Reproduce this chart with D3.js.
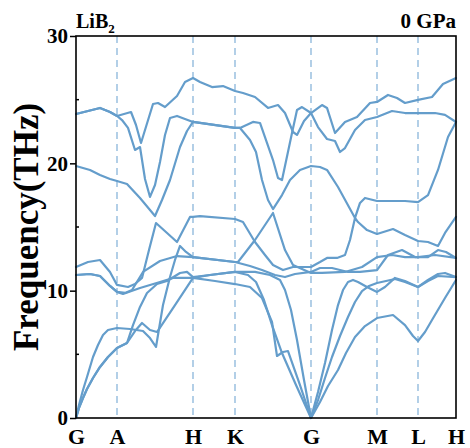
<!DOCTYPE html>
<html>
<head>
<meta charset="utf-8">
<script src="https://cdn.jsdelivr.net/npm/d3@7"></script>
<style>
  html, body { margin: 0; padding: 0; background: #fff; }
  svg text { font-family: "Liberation Serif", "Times New Roman", serif; font-weight: bold; fill: #000; }
</style>
</head>
<body>
<svg id="chart" width="470" height="448"></svg>
<script>
// High-symmetry path and axis ticks
const kLabels = ["G", "A", "H", "K", "G", "M", "L", "H"];
const kPos = [0, 0.41, 1.17, 1.59, 2.35, 3.01, 3.42, 3.80];
const freqTicks = [0, 10, 20, 30];
const freqMinor = [5, 15, 25];

// Phonon branches of LiB2 at 0 GPa: [path coordinate k, frequency THz]
const band1 = [[0,0],[0.03,0.79],[0.07,1.57],[0.11,2.28],[0.17,3.14],[0.24,4.01],[0.32,4.79],[0.41,5.50],
  [0.51,5.89],[0.59,6.83],[0.66,7.46],[0.74,6.91],[0.81,6.75],[0.99,8.87],[1.17,11.00],
  [1.39,10.76],[1.59,10.52],
  [1.74,10.29],[1.86,9.42],[1.96,7.54],[2.01,4.87],[2.07,5.18],[2.12,5.26],[2.24,2.59],[2.35,0],
  [2.44,1.26],[2.52,2.51],[2.62,3.77],[2.70,5.10],[2.79,6.36],[2.89,7.22],[3.01,7.85],
  [3.17,8.09],[3.29,7.30],[3.37,6.44],[3.42,6.05],
  [3.49,6.75],[3.56,7.70],[3.69,9.42],[3.80,10.84]];

const band2 = [[0,0],[0.03,0.79],[0.07,1.57],[0.11,2.28],[0.17,3.14],[0.24,4.01],[0.32,4.79],[0.41,5.50],
  [0.51,5.89],[0.57,7.30],[0.64,8.72],[0.71,9.82],[0.81,10.52],[0.91,10.76],[1.04,11.39],[1.11,11.47],[1.17,11.07],
  [1.34,11.23],[1.59,11.47],
  [1.72,11.23],[1.80,10.68],[1.88,9.27],[1.96,7.30],[2.06,5.10],[2.20,2.59],[2.35,0],
  [2.42,1.41],[2.49,3.14],[2.56,4.79],[2.64,6.44],[2.72,7.93],[2.79,9.11],[2.86,9.97],[2.93,10.37],[3.01,10.60],
  [3.19,10.92],[3.29,10.68],[3.42,10.29],
  [3.52,10.76],[3.62,11.15],[3.80,11.07]];

const band3 = [[0,11.23],[0.14,11.31],[0.24,11.15],[0.34,10.37],[0.41,9.90],
  [0.47,9.74],[0.64,10.21],[0.84,10.68],[0.97,11.00],[1.17,11.00],
  [1.34,11.23],[1.59,11.47],
  [1.79,11.47],[1.94,11.23],[2.04,10.84],[2.09,10.05],[2.15,8.48],[2.21,6.13],[2.28,2.98],[2.35,0],
  [2.42,2.04],[2.49,4.32],[2.56,6.91],[2.62,8.87],[2.67,10.05],[2.72,10.68],[2.77,10.84],[2.82,10.68],[2.91,10.29],[3.01,9.90],
  [3.09,10.29],[3.19,11.00],[3.29,10.76],[3.42,10.29],
  [3.52,10.84],[3.62,11.31],[3.69,11.39],[3.80,11.07]];

const band4 = [[0,0],[0.03,1.02],[0.07,2.20],[0.11,3.22],[0.17,4.79],[0.22,5.73],[0.27,6.52],[0.32,6.91],[0.41,7.07],
  [0.54,6.99],[0.67,6.83],[0.74,6.28],[0.80,5.58],[0.87,8.87],[0.94,11.07],[0.99,12.41],[1.04,13.51],[1.10,13.04],[1.17,12.64],
  [1.59,12.25],
  [1.74,11.94],[1.86,11.62],[1.99,11.23],[2.09,11.07],[2.19,11.31],[2.35,11.47],
  [2.44,11.78],[2.56,11.78],[2.72,11.47],[2.84,11.47],[3.01,11.62],
  [3.12,12.80],[3.26,13.19],[3.39,12.64],
  [3.52,12.64],[3.62,13.19],[3.70,13.04],[3.80,12.57]];

const band5 = [[0,11.23],[0.14,11.31],[0.24,11.15],[0.34,10.37],[0.41,9.90],
  [0.49,9.82],[0.56,10.05],[0.67,11.47],[0.84,12.33],[1.01,12.72],[1.17,12.64],
  [1.59,12.25],
  [1.62,12.25],[1.79,13.98],[1.97,16.10],[2.09,13.19],[2.17,12.02],[2.35,11.39],
  [2.46,11.39],[2.69,11.47],[2.86,11.86],[3.01,12.64],
  [3.16,12.80],[3.29,12.64],[3.42,12.64],
  [3.59,12.80],[3.80,12.57]];

const band6 = [[0,11.86],[0.12,12.25],[0.24,12.41],[0.34,11.47],[0.41,10.45],
  [0.52,10.29],[0.59,10.52],[0.66,11.00],[0.73,13.19],[0.80,15.31],[1.01,13.82],[1.14,15.79],[1.17,15.79],
  [1.24,15.86],[1.59,15.63],
  [1.67,15.39],[1.79,13.82],[1.89,12.80],[1.97,12.02],[2.07,11.62],[2.17,11.86],[2.35,11.86],
  [2.44,12.25],[2.51,12.57],[2.61,12.57],[2.69,12.80],[2.74,13.98],[2.79,15.71],
  [2.82,15.39],[2.91,14.76],[3.01,14.45],
  [3.17,14.84],[3.29,14.37],[3.42,13.90],
  [3.52,13.82],[3.62,13.51],[3.69,14.53],[3.80,15.79]];

const band7 = [[0,19.79],[0.14,19.48],[0.24,19.08],[0.34,18.77],[0.41,18.61],
  [0.51,18.38],[0.64,17.28],[0.79,15.86],[0.86,17.12],[0.94,18.69],[1.04,21.28],[1.11,22.54],[1.17,23.25],
  [1.59,22.78],
  [1.64,22.78],[1.74,21.83],[1.80,20.89],[1.86,18.69],[1.92,17.12],[1.97,16.41],
  [2.06,17.51],[2.14,18.69],[2.24,19.48],[2.35,19.79],
  [2.44,19.71],[2.51,19.48],[2.62,18.14],[2.79,15.71],[2.84,16.89],[2.89,17.28],[3.01,17.04],
  [3.29,17.04],[3.42,16.96],
  [3.52,17.51],[3.62,19.48],[3.72,22.07],[3.80,23.25]];

const band8 = [[0,23.87],[0.12,24.11],[0.24,24.35],[0.34,24.03],[0.41,23.72],
  [0.46,23.40],[0.52,22.78],[0.59,21.05],[0.64,21.28],[0.69,18.77],[0.74,17.36],[0.79,18.30],[0.84,20.11],[0.89,22.23],[0.94,23.56],[1.01,23.72],[1.17,23.25],
  [1.59,22.78],
  [1.64,22.78],[1.77,23.25],[1.84,23.17],[1.97,20.26],[2.02,18.85],[2.06,18.69],[2.16,22.38],[2.21,24.19],[2.26,24.42],[2.35,23.95],
  [2.42,22.85],[2.51,21.91],[2.59,21.75],[2.64,20.89],[2.69,21.20],[2.79,22.62],[2.89,23.40],[3.01,23.64],
  [3.16,24.11],[3.29,23.95],[3.42,23.95],
  [3.59,23.95],[3.69,23.80],[3.80,23.25]];

const band9 = [[0,23.87],[0.12,24.11],[0.24,24.35],[0.34,24.03],[0.41,23.72],
  [0.48,23.87],[0.55,24.03],[0.60,23.01],[0.65,21.60],[0.77,24.66],[0.82,24.74],[0.89,24.42],[1.01,25.29],[1.09,26.39],[1.17,26.70],
  [1.24,26.39],[1.36,25.99],[1.47,26.07],[1.59,25.68],
  [1.67,25.52],[1.79,25.21],[1.92,24.35],[2.02,24.58],[2.09,23.95],[2.17,22.46],[2.21,22.23],[2.28,23.32],[2.35,23.95],
  [2.46,24.58],[2.51,24.35],[2.59,22.38],[2.69,23.25],[2.81,23.64],[2.94,24.74],[3.01,24.82],
  [3.12,25.37],[3.21,25.13],[3.29,24.74],[3.42,24.98],
  [3.56,25.21],[3.67,26.23],[3.80,26.70]];

const bands = [band1, band2, band3, band4, band5, band6, band7, band8, band9];

const plot = { left: 76, right: 456, top: 36, bottom: 418 };
const svg = d3.select("#chart");

const x = d3.scaleLinear().domain([0, 3.80]).range([plot.left, plot.right]);
const y = d3.scaleLinear().domain([0, 30]).range([plot.bottom, plot.top]);

// vertical dashed guides at interior high-symmetry points
svg.append("g").selectAll("line")
  .data(kPos.slice(1, -1))
  .join("line")
  .attr("x1", d => x(d)).attr("x2", d => x(d))
  .attr("y1", plot.top).attr("y2", plot.bottom)
  .attr("stroke", "#8ab6da")
  .attr("stroke-width", 1.3)
  .attr("stroke-dasharray", "7,5");

// dispersion curves
const line = d3.line().x(d => x(d[0])).y(d => y(d[1]));
svg.append("g").selectAll("path")
  .data(bands)
  .join("path")
  .attr("d", line)
  .attr("fill", "none")
  .attr("stroke", "#649dcb")
  .attr("stroke-width", 2.2)
  .attr("stroke-linejoin", "round")
  .attr("stroke-linecap", "round");

// frequency axis
const yAxis = d3.axisLeft(y).tickValues(freqTicks).tickSize(6).tickPadding(2).tickFormat(d3.format("d"));
const gy = svg.append("g").attr("transform", `translate(${plot.left},0)`).call(yAxis);
gy.select(".domain").remove();
gy.selectAll(".tick line").attr("stroke", "#000").attr("stroke-width", 1.5);
gy.selectAll(".tick text")
  .style("font-family", '"Liberation Serif", "Times New Roman", serif')
  .style("font-weight", "bold")
  .style("font-size", "21px")
  .attr("fill", "#000");

// minor ticks (inside)
svg.append("g").selectAll("line")
  .data(freqMinor)
  .join("line")
  .attr("x1", plot.left).attr("x2", plot.left + 3)
  .attr("y1", d => y(d)).attr("y2", d => y(d))
  .attr("stroke", "#000").attr("stroke-width", 1.5);

// path labels
const xAxis = d3.axisBottom(x).tickValues(kPos).tickSize(0).tickPadding(10)
  .tickFormat((d, i) => kLabels[i]);
const gx = svg.append("g").attr("transform", `translate(0,${plot.bottom})`).call(xAxis);
gx.select(".domain").remove();
gx.selectAll(".tick text")
  .style("font-family", '"Liberation Serif", "Times New Roman", serif')
  .style("font-weight", "bold")
  .style("font-size", "22px")
  .attr("fill", "#000");

// frame
svg.append("rect")
  .attr("x", plot.left).attr("y", plot.top)
  .attr("width", plot.right - plot.left).attr("height", plot.bottom - plot.top)
  .attr("fill", "none").attr("stroke", "#000").attr("stroke-width", 1.6);

// titles
svg.append("text")
  .attr("transform", `translate(38,${(plot.top + plot.bottom) / 2}) rotate(-90)`)
  .attr("text-anchor", "middle")
  .style("font-size", "35px")
  .text("Frequency(THz)");

const comp = svg.append("text").attr("x", plot.left).attr("y", 28).style("font-size", "20px");
comp.append("tspan").text("LiB");
comp.append("tspan").attr("dy", 5).style("font-size", "13px").text("2");

svg.append("text")
  .attr("x", plot.right).attr("y", 28)
  .attr("text-anchor", "end")
  .style("font-size", "21px")
  .text("0 GPa");
</script>
</body>
</html>
